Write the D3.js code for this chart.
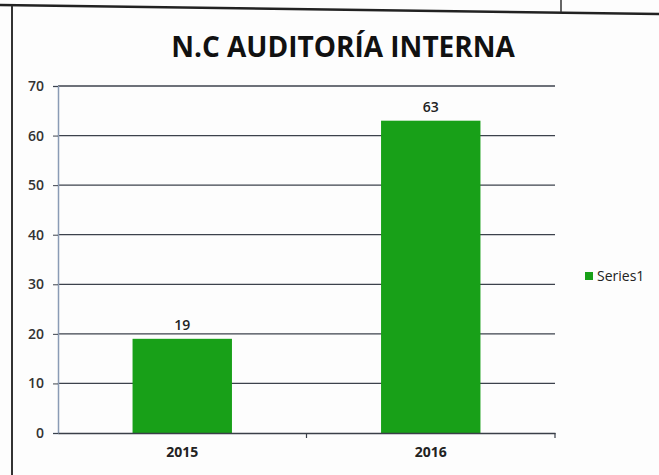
<!DOCTYPE html>
<html>
<head>
<meta charset="utf-8">
<script src="https://cdn.jsdelivr.net/npm/d3@7"></script>
<style>
  body { margin: 0; background: #fdfdfd; }
  text { font-family: "Open Sans", "Noto Sans", sans-serif; }
</style>
</head>
<body>
<div id="chart"></div>
<script>
var categories = ["2015", "2016"];
var values = [19, 63];
var yTicks = [0, 10, 20, 30, 40, 50, 60, 70];
var seriesName = "Series1";
var title = "N.C AUDITORÍA INTERNA";

var width = 659, height = 475;
var margin = {top: 86, right: 104, bottom: 42, left: 58};

var svg = d3.select("#chart").append("svg")
    .attr("width", width)
    .attr("height", height);

svg.append("rect").attr("width", width).attr("height", height).attr("fill", "#fdfdfd");

// scanned page frame
svg.append("line").attr("x1", 0).attr("y1", 5).attr("x2", width).attr("y2", 14)
    .attr("stroke", "#222").attr("stroke-width", 2.5);
svg.append("line").attr("x1", 12).attr("y1", 6).attr("x2", 12).attr("y2", height)
    .attr("stroke", "#333").attr("stroke-width", 2);
svg.append("line").attr("x1", 561).attr("y1", 0).attr("x2", 561).attr("y2", 12)
    .attr("stroke", "#333").attr("stroke-width", 1.5);

var x = d3.scaleBand()
    .domain(categories)
    .range([margin.left, width - margin.right])
    .paddingInner(0.6)
    .paddingOuter(0.3);

var y = d3.scaleLinear()
    .domain([0, 70])
    .range([height - margin.bottom, margin.top]);

// gridlines
svg.append("g")
    .selectAll("line")
    .data(yTicks.slice(1))
    .enter().append("line")
    .attr("x1", margin.left)
    .attr("x2", width - margin.right)
    .attr("y1", function(d) { return y(d); })
    .attr("y2", function(d) { return y(d); })
    .attr("stroke", "#3c424c")
    .attr("stroke-width", 1.3);

// y axis
var yAxis = svg.append("g")
    .attr("transform", "translate(" + margin.left + ",0)")
    .call(d3.axisLeft(y).tickValues(yTicks).tickSize(5).tickPadding(9));
yAxis.select(".domain").attr("stroke", "#8a9bb5").attr("stroke-width", 1.5);
yAxis.selectAll(".tick line").attr("stroke", "#3c424c");
yAxis.selectAll("text").attr("font-size", 14).attr("fill", "#333").attr("font-weight", 600)
    .attr("font-family", "Open Sans, sans-serif");

// bars
svg.append("g")
    .selectAll("rect")
    .data(values)
    .enter().append("rect")
    .attr("x", function(d, i) { return x(categories[i]); })
    .attr("y", function(d) { return y(d); })
    .attr("width", x.bandwidth())
    .attr("height", function(d) { return y(0) - y(d); })
    .attr("fill", "#18a018");

// value labels
svg.append("g")
    .selectAll("text")
    .data(values)
    .enter().append("text")
    .attr("x", function(d, i) { return x(categories[i]) + x.bandwidth() / 2; })
    .attr("y", function(d) { return y(d) - 9; })
    .attr("text-anchor", "middle")
    .attr("font-size", 14)
    .attr("font-weight", 600)
    .attr("fill", "#222")
    .text(function(d) { return d; });

// x axis
var xAxis = svg.append("g")
    .attr("transform", "translate(0," + y(0) + ")")
    .call(d3.axisBottom(x).tickSize(0).tickPadding(14));
xAxis.select(".domain").attr("stroke", "#3a3f48").attr("stroke-width", 1.5);
xAxis.selectAll("text").attr("font-size", 14).attr("fill", "#222")
    .attr("font-family", "Open Sans, sans-serif").attr("font-weight", "bold");

// category boundary ticks
var step = x.step();
svg.append("g")
    .selectAll("line")
    .data([x.range()[0] + step, x.range()[1]])
    .enter().append("line")
    .attr("x1", function(d) { return d; })
    .attr("x2", function(d) { return d; })
    .attr("y1", y(0))
    .attr("y2", y(0) + 5)
    .attr("stroke", "#3a3f48")
    .attr("stroke-width", 1.2);

// title
svg.append("text")
    .attr("x", 343)
    .attr("y", 57)
    .attr("text-anchor", "middle")
    .attr("font-size", 28)
    .attr("font-weight", "bold")
    .attr("fill", "#111")
    .text(title);

// legend
var legend = svg.append("g").attr("transform", "translate(585,276)");
legend.append("rect").attr("x", 0).attr("y", -4).attr("width", 8).attr("height", 8)
    .attr("fill", "#18a018");
legend.append("text").attr("x", 12).attr("y", 5).attr("font-size", 14)
    .attr("fill", "#222").text(seriesName);
</script>
</body>
</html>
